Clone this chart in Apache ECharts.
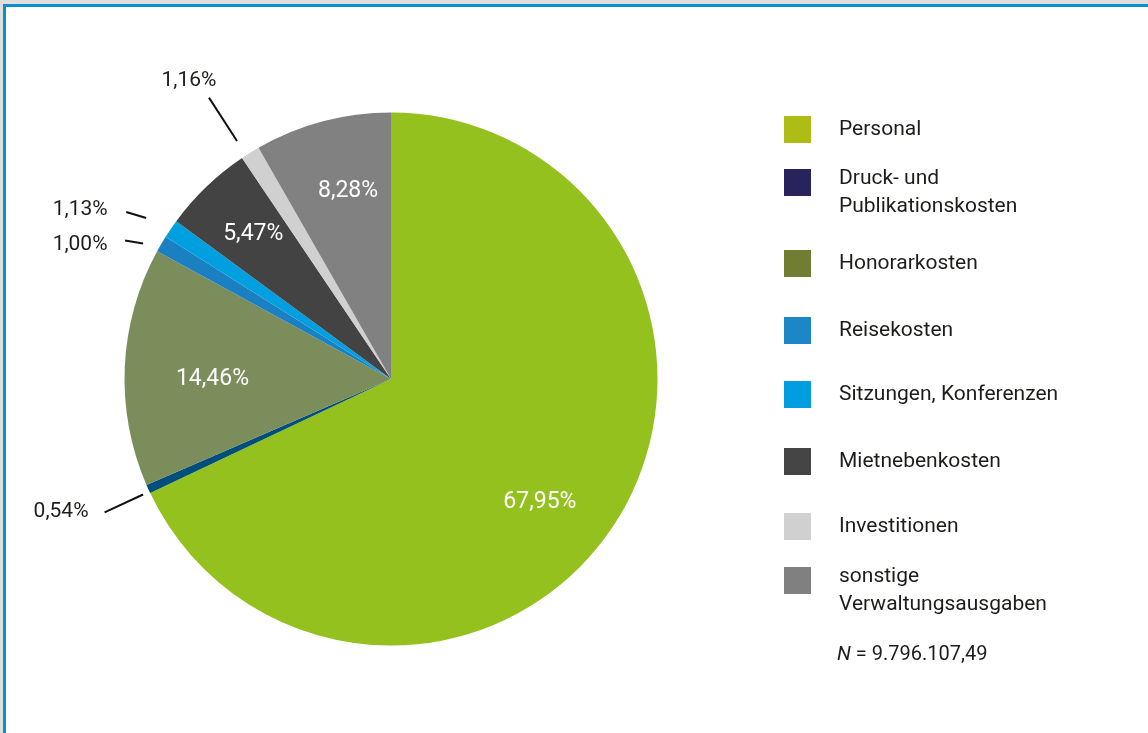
<!DOCTYPE html>
<html><head><meta charset="utf-8">
<script src="https://cdn.jsdelivr.net/npm/echarts@6/dist/echarts.min.js"></script>
<style>
html,body{margin:0;padding:0;width:1148px;height:733px;overflow:hidden;background:#dedede;}
#frame{position:absolute;left:3px;top:4px;width:1145px;height:729px;box-sizing:border-box;border-top:3px solid #0b8fd3;border-left:3px solid #0b8fd3;background:#fff;}
#chart{position:absolute;left:0;top:0;width:1148px;height:733px;}
</style></head><body><div id="frame"></div><div id="chart"></div>
<script>
// ---- data ----
const categories = ['Personal','Druck- und Publikationskosten','Honorarkosten','Reisekosten','Sitzungen, Konferenzen','Mietnebenkosten','Investitionen','sonstige Verwaltungsausgaben'];
const legendLines = [['Personal'],['Druck- und','Publikationskosten'],['Honorarkosten'],['Reisekosten'],['Sitzungen, Konferenzen'],['Mietnebenkosten'],['Investitionen'],['sonstige','Verwaltungsausgaben']];
const shares = [67.95, 0.54, 14.46, 1.00, 1.13, 5.47, 1.16, 8.28];
const totalLabel = '9.796.107,49';

// ---- styles / layout ----
const sliceColors = ['#95c11f','#004e7c','#7b8d5b','#1a80c2','#00a0e0','#434343','#d0d0d0','#818181'];
const legendColors = ['#aebd15','#29235c','#717d32','#1d86c7','#009ee0','#454545','#d0d0d0','#808080'];
const FONT = 'Roboto';
const TXT = '#1d1d1b';
const CX = 391, CY = 379, R = 266.5;
const legendTops = [115.5, 154.5, 249.5, 316.5, 380.5, 447.5, 512.5, 552.5];
const labelCfg = {
  0: {inside:true, r:0.72, da:-6.8},
  1: {gap:7, len:42.5, da:0.6, off:[-43.5,-0.5]},
  2: {inside:true, r:0.67, da:2},
  3: {gap:16, vec:[-18,-3], da:1.8, off:[-45,4]},
  4: {gap:26.5, vec:[-20,-6], da:0.95, off:[-46,-2]},
  5: {inside:true, r:0.756, da:-0.7},
  6: {gap:17, len:51.6, da:1, off:[-20,-16.5]},
  7: {inside:true, r:0.733, da:-2.2}
};

const total = shares.reduce((a,b)=>a+b,0);
const midAngles = [];
{ let c = 0; shares.forEach(v => { midAngles.push(90 - 360*(c + v/2)/total); c += v; }); }
const fmt = v => v.toFixed(2).replace('.', ',') + '%';
const pt = (angDeg, r) => { const a = angDeg*Math.PI/180; return [CX + r*Math.cos(a), CY - r*Math.sin(a)]; };

const chart = echarts.init(document.getElementById('chart'), null, {renderer:'canvas'});

const legends = categories.map((name, i) => ({
  left: 784, top: legendTops[i], orient: 'vertical', padding: 0,
  itemWidth: 27, itemHeight: 27, icon: 'rect', selectedMode: false,
  data: [{name: name, itemStyle: {color: legendColors[i], borderWidth: 0}}],
  formatter: n => {
    const ls = legendLines[categories.indexOf(n)];
    return ls.length > 1 ? '{a|' + ls[0] + '}\n{b|' + ls[1] + '}' : '{s|' + ls[0] + '}';
  },
  textStyle: {fontFamily: FONT, fontSize: 21, lineHeight: 28, color: TXT,
    rich: {
      s: {fontFamily: FONT, fontSize: 21, lineHeight: 28, color: TXT, padding: [0,0,0,23]},
      a: {fontFamily: FONT, fontSize: 21, lineHeight: 48, color: TXT, padding: [0,0,0,23]},
      b: {fontFamily: FONT, fontSize: 21, lineHeight: 8, color: TXT, padding: [0,0,0,23]}
    }}
}));

const data = shares.map((v, i) => {
  const cfg = labelCfg[i];
  return {
    value: v, name: categories[i],
    itemStyle: {color: sliceColors[i]},
    label: cfg.inside ? {position: 'inside', color: '#ffffff', fontSize: 23} : {position: 'outside'},
    labelLine: {show: !cfg.inside}
  };
});

chart.setOption({
  animation: false,
  title: {
    left: 837, top: 640.5, padding: 0,
    text: '{i|N} = ' + totalLabel,
    textStyle: {fontFamily: FONT, fontSize: 20, lineHeight: 28, fontWeight: 'normal', color: TXT,
      rich: {i: {fontFamily: FONT, fontSize: 20, lineHeight: 28, fontStyle: 'italic', color: TXT}}}
  },
  legend: legends,
  series: [{
    type: 'pie', center: [CX, CY], radius: R, startAngle: 90, clockwise: true,
    avoidLabelOverlap: false, emphasis: {disabled: true}, silent: true,
    data: data,
    label: {fontFamily: FONT, fontSize: 21, color: TXT, formatter: p => fmt(p.value)},
    labelLine: {show: true, length: 10, length2: 0, lineStyle: {color: '#111111', width: 2}},
    labelLayout: function (p) {
      const i = p.dataIndex, cfg = labelCfg[i], m = midAngles[i] + cfg.da;
      if (cfg.inside) {
        const c = pt(m, cfg.r * R);
        return {x: c[0], y: c[1] + 2.5, align: 'center', verticalAlign: 'middle'};
      }
      const s = pt(m, R + cfg.gap);
      const e = cfg.vec ? [s[0] + cfg.vec[0], s[1] + cfg.vec[1]] : pt(m, R + cfg.gap + cfg.len);
      return {x: e[0] + cfg.off[0], y: e[1] + cfg.off[1], align: 'center', verticalAlign: 'middle',
              labelLinePoints: [s, e]};
    }
  }]
});
</script></body></html>
